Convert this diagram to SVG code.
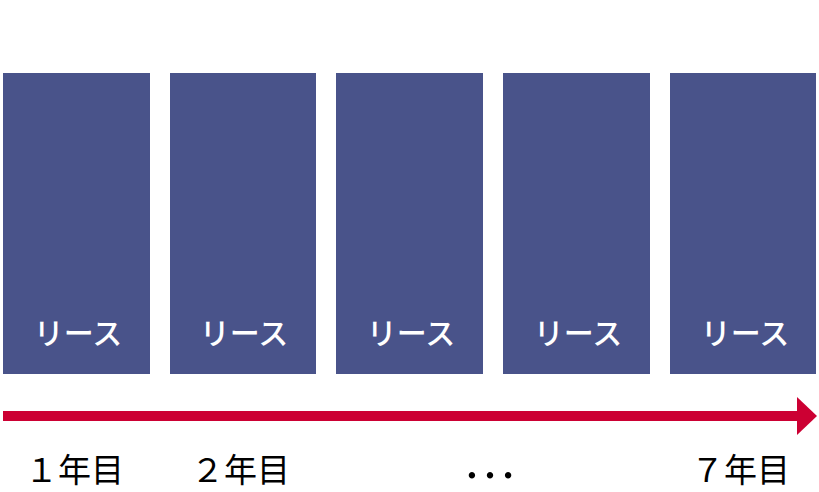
<svg xmlns="http://www.w3.org/2000/svg" width="819" height="492" viewBox="0 0 819 492">
<style>
.box{fill:#49538a}
.lbl{font-family:"Noto Sans CJK JP","Noto Sans",sans-serif;font-size:30px;fill:#ffffff;text-anchor:middle;font-weight:500}
.yr{font-family:"Noto Sans CJK JP","Liberation Serif",serif;font-size:33px;fill:#000000}
.dots{font-family:"Liberation Serif",serif;font-size:54px;fill:#000000}
</style>
<rect width="819" height="492" fill="#ffffff"/>
<g id="node1"><rect class="box" x="3" y="73" width="147" height="301"/><text class="lbl" x="78" y="344">リース</text></g>
<g id="node2"><rect class="box" x="170" y="73" width="146" height="301"/><text class="lbl" x="244" y="344">リース</text></g>
<g id="node3"><rect class="box" x="336" y="73" width="147" height="301"/><text class="lbl" x="411" y="344">リース</text></g>
<g id="node4"><rect class="box" x="503" y="73" width="147" height="301"/><text class="lbl" x="578" y="344">リース</text></g>
<g id="node5"><rect class="box" x="670" y="73" width="146" height="301"/><text class="lbl" x="745" y="344">リース</text></g>
<g id="connectors">
<rect x="3" y="411" width="796" height="10" fill="#cc0033"/>
<polygon points="797,397 817,416 797,435" fill="#cc0033"/>
</g>
<g id="labels">
<text class="yr" x="25" y="482">１年目</text>
<text class="yr" x="191" y="482">２年目</text>
<text class="dots" x="463" y="478">…</text>
<text class="yr" x="691" y="482">７年目</text>
</g>
</svg>
